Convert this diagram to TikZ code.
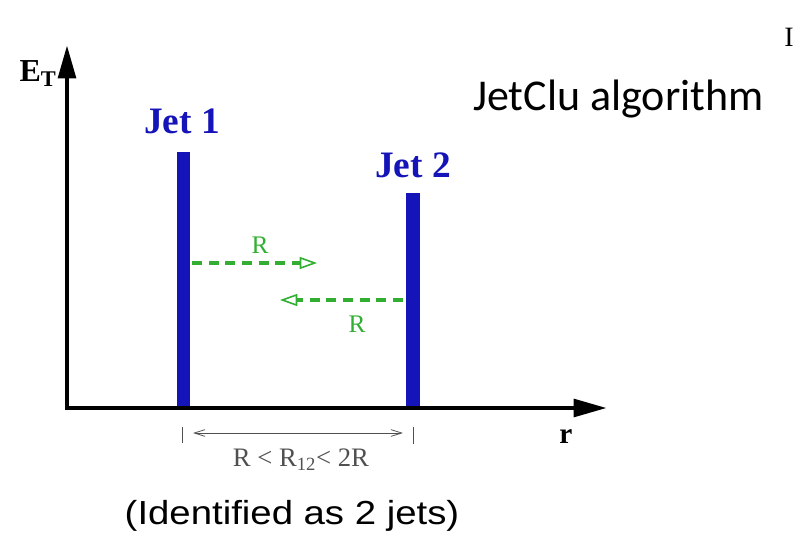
\documentclass[tikz,border=0pt]{standalone}
\usepackage{fontspec}
\setmainfont{Liberation Serif}
\newfontfamily\arialfont{Liberation Sans}
\newfontfamily\calibrifont{Carlito}
\usetikzlibrary{arrows.meta, positioning, calc}
\usepackage{xcolor}
\definecolor{jetblue}{RGB}{20,20,185}
\definecolor{conegreen}{RGB}{50,175,50}
\definecolor{rulegray}{RGB}{80,80,80}

\begin{document}
\begin{tikzpicture}[
    x=0.75pt, y=-0.75pt,
    axis/.style={line width=3.6pt, -{Triangle[length=25pt, width=13pt]}},
    jetbar/.style={fill=jetblue, inner sep=0pt, outer sep=0pt, minimum width=10pt, anchor=south},
    txt/.style={inner sep=0pt, anchor=base},
    jetlabel/.style={txt, text=jetblue, font=\bfseries\fontsize{28}{32}\selectfont},
    cone/.style={draw=conegreen, line width=2.4pt, dash pattern=on 7.5pt off 5pt, -{Triangle[open, length=13pt, width=9pt, line width=1.2pt]}},
    conelabel/.style={txt, text=conegreen, font=\fontsize{19}{22}\selectfont},
    spanarrow/.style={draw=rulegray, line width=0.6pt, {Straight Barb[length=8pt, width=5pt]}-{Straight Barb[length=8pt, width=5pt]}},
    limit/.style={draw=rulegray, line width=0.6pt}
]
\useasboundingbox (0,0) rectangle (793,535);

% jets
\node[jetbar, minimum height=192pt] (jet1) at (183.5,408) {};
\node[jetbar, minimum height=161.25pt] (jet2) at (413,408) {};
\node[jetlabel] (lab1) at (182,133) {Jet 1};
\node[jetlabel] (lab2) at (413,177) {Jet 2};

% axes
\coordinate (origin) at (67,408);
\coordinate (ytop) at (67,45);
\coordinate (xend) at (607,408);
\draw[axis, line cap=rect] (origin) -- (ytop);
\draw[axis] (origin) -- (xend);
\node[txt, font=\bfseries\fontsize{24}{28}\selectfont] (et) at (38,82) {E\textsubscript{T}};
\node[txt, font=\bfseries\fontsize{22}{26}\selectfont] (rlab) at (566,443) {r};

% cone radius R
\coordinate (c1s) at (192,263);
\coordinate (c1e) at (317,263);
\coordinate (c2s) at (403,300);
\coordinate (c2e) at (280,300);
\draw[cone] (c1s) -- (c1e);
\draw[cone] (c2s) -- (c2e);
\node[conelabel] (r1) at (260,253) {R};
\node[conelabel] (r2) at (357,332) {R};

% separation
\coordinate (s1) at (193,433);
\coordinate (s2) at (403,433);
\draw[limit] (182,427) -- (182,443);
\draw[limit] (413,427) -- (413,444);
\draw[spanarrow] (s1) -- (s2);
\node[txt, text=rulegray, font=\fontsize{20}{24}\selectfont] (cond) at (301,466) {R < R\textsubscript{12}< 2R};

\node[txt, font=\arialfont\fontsize{25}{29}\selectfont, xscale=1.15] (verdict) at (292,524) {(Identified as 2 jets)};
\node[txt, anchor=base west, font=\calibrifont\fontsize{33}{40}\selectfont] (algo) at (473,111) {JetClu algorithm};
\node[txt, anchor=base west, font=\fontsize{21}{24}\selectfont] (cut) at (784,47) {I};

\end{tikzpicture}
\end{document}
